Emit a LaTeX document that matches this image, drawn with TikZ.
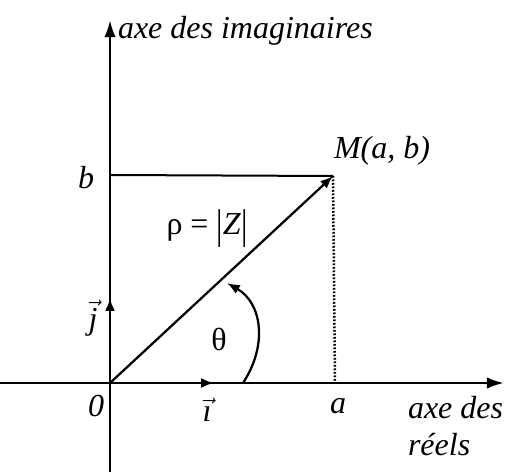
\documentclass[tikz,border=0pt]{standalone}
\usepackage{fontspec}
\setmainfont{Liberation Serif}
\usepackage{tikz}
\usetikzlibrary{arrows.meta, positioning, calc}
\tikzset{
  axis/.style  = {-{Latex[length=2.4mm, width=1.6mm]}, line width=1pt, draw=black},
  unit/.style  = {-{Latex[length=1.8mm, width=1.4mm]}, line width=1pt, draw=black},
  ray/.style   = {-{Latex[length=1.8mm, width=1.4mm]}, line width=0.9pt, draw=black},
  proj/.style  = {line width=0.8pt, draw=black},
  lab/.style   = {font=\fontsize{12.8}{15}\selectfont\itshape, inner sep=1pt}
}
\newcommand{\tallbar}{\raisebox{-0.15em}{\scalebox{1}[1.3]{\upshape|}}}
\begin{document}
\begin{tikzpicture}[x=0.4pt, y=-0.4pt]
\useasboundingbox (0,0) rectangle (506,472);
% Points
\coordinate (O) at (110,383);
\coordinate (M) at (333,176);
\coordinate (A) at (335,383);
\coordinate (B) at (110,175);
\coordinate (Ytop) at (110,20);
\coordinate (Ybot) at (110,472);
\coordinate (Xleft) at (0,383);
\coordinate (Xright) at (504,383);
\coordinate (I) at (214,383);
\coordinate (J) at (110,298);
\coordinate (T0) at (243,383);
\coordinate (T1) at (227,283);

% Axes and unit vectors
\draw[axis] (Ybot) -- (Ytop);
\draw[axis] (Xleft) -- (Xright);
\draw[unit] (O) -- (I);
\draw[unit] (O) -- (J);

% Point M
\draw[proj] (B) -- (M);
\draw[proj, line width=1pt, dash pattern=on 0.7pt off 0.7pt] (M) -- (A);
\draw[ray] (O) -- (M);
\draw[ray] (T0) .. controls (268,345) and (262,303) .. (T1);

% Labels
\node[lab, anchor=west] (imag) at (115,31) {axe des imaginaires};
\node[lab] (mlab) at (382,151) {M(a, b)};
\node[lab] (blab) at (86,178) {b};
\node[lab] (rho) at (207,229) {\upshape ρ = \tallbar\textit{Z}\tallbar};
\node[lab] (theta) at (219,339) {\upshape θ};
\node[lab] (jlab) at (93,318) {$\vec{\textit{j}}$};
\node[lab] (olab) at (96,406) {0};
\node[lab] (ilab) at (207,410) {$\vec{\textit{\i}}$};
\node[lab] (alab) at (338,406) {a};
\node[lab, align=left, anchor=north west] (reel) at (405,393) {axe des\\réels};
\end{tikzpicture}
\end{document}
